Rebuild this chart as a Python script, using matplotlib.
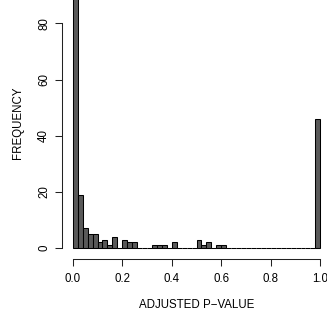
import matplotlib
matplotlib.use("Agg")
import matplotlib.pyplot as plt
import numpy as np

# Histogram of adjusted p-values: 50 bins of width 0.02 on [0, 1]
bin_width = 0.02
bin_lefts = [round(i * bin_width, 2) for i in range(50)]
counts = [90, 19, 7, 5, 5, 2, 3, 1, 4, 0,
          3, 2, 2, 0, 0, 0, 1, 1, 1, 0,
          2, 0, 0, 0, 0, 3, 1, 2, 0, 1,
          1, 0, 0, 0, 0, 0, 0, 0, 0, 0,
          0, 0, 0, 0, 0, 0, 0, 0, 0, 46]
x_ticks = [0.0, 0.2, 0.4, 0.6, 0.8, 1.0]
x_tick_labels = ["0.0", "0.2", "0.4", "0.6", "0.8", "1.0"]
y_ticks = [0, 20, 40, 60, 80]
y_tick_labels = ["0", "20", "40", "60", "80"]

plt.rcParams['font.family'] = ['Liberation Sans', 'DejaVu Sans']
fs = 8.3

fig = plt.figure(figsize=(3.27, 3.20), dpi=100)
ax = fig.add_axes([0, 0, 1, 1])
ax.patch.set_alpha(0)

ax.bar(bin_lefts, counts, width=bin_width, align='edge',
       color='#595959', edgecolor='black', linewidth=0.75)

ax.set_xlim(-0.294, 1.027)
ax.set_ylim(-25.6, 88.3)

for s in ['top', 'right']:
    ax.spines[s].set_visible(False)
ax.spines['left'].set_position(('data', -0.044))
ax.spines['left'].set_bounds(0, 80)
ax.spines['bottom'].set_position(('data', -4.0))
ax.spines['bottom'].set_bounds(0, 1)
for s in ['left', 'bottom']:
    ax.spines[s].set_linewidth(0.75)
    ax.spines[s].set_color('#222222')

ax.set_xticks(x_ticks)
ax.set_xticklabels(x_tick_labels, fontsize=fs)
ax.set_yticks(y_ticks)
ax.set_yticklabels(y_tick_labels, fontsize=fs, rotation=90, va='center')
ax.tick_params(axis='both', direction='out', length=4.8, width=0.75,
               color='#222222')
ax.tick_params(axis='x', pad=5.3)
ax.tick_params(axis='y', pad=3.6)

ax.set_xlabel("ADJUSTED P\u2212VALUE", fontsize=fs)
ax.set_ylabel("FREQUENCY", fontsize=fs)
ax.xaxis.set_label_coords(0.6015, 0.047)
ax.yaxis.set_label_coords(0.056, 0.616)
ax.xaxis.label.set_va('center')
ax.yaxis.label.set_va('center')

fig.savefig("out.png", dpi=100)
